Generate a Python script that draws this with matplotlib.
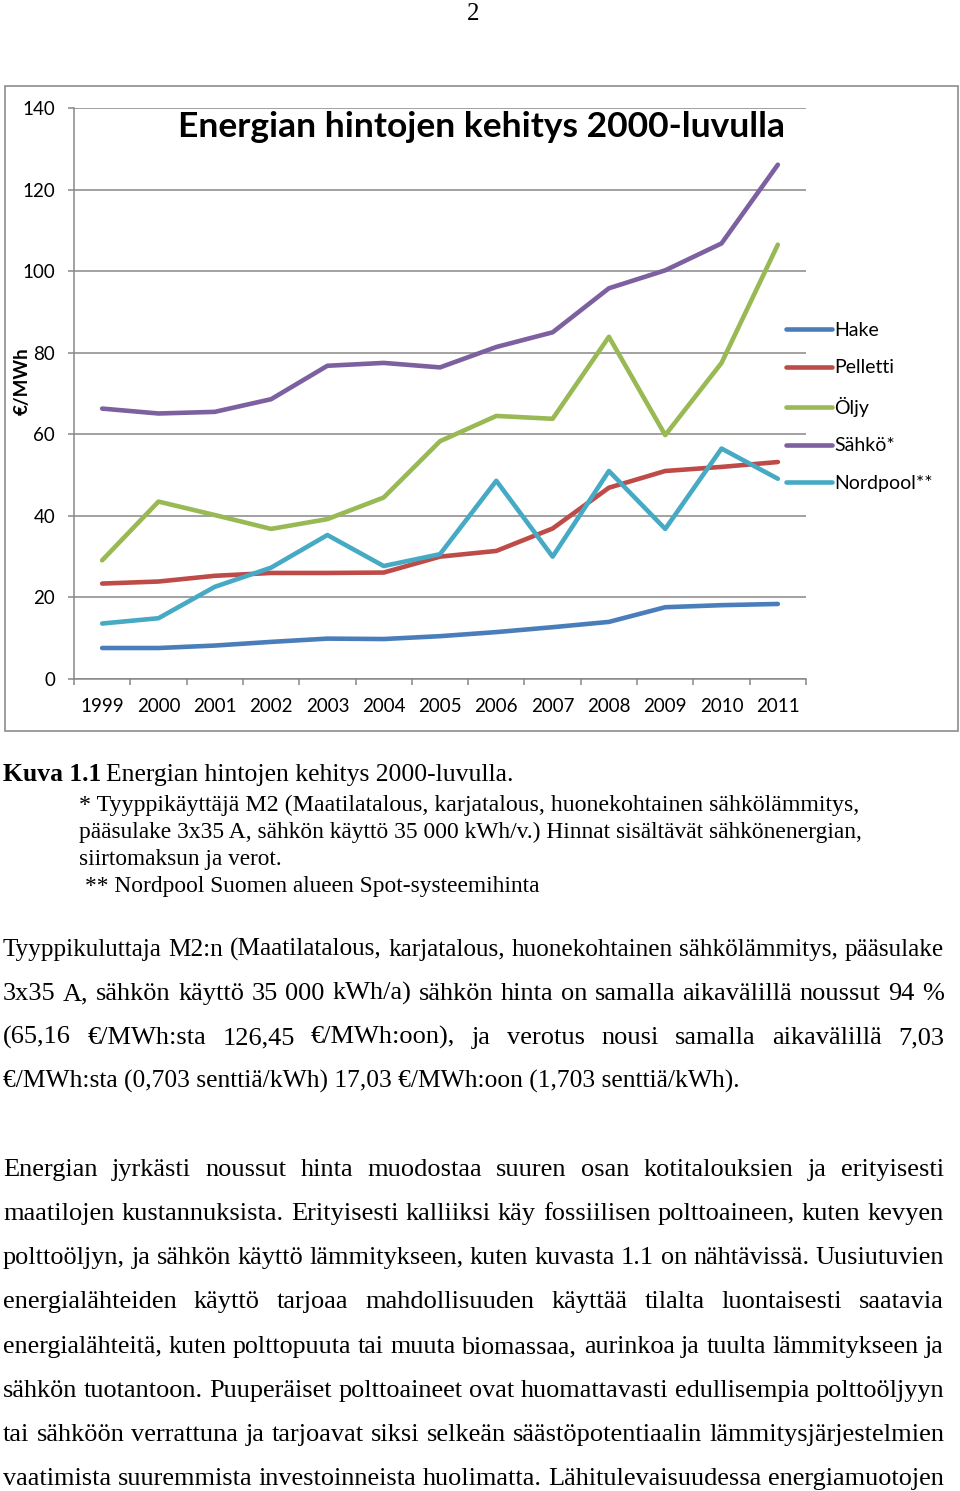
import matplotlib
matplotlib.use('Agg')
import matplotlib.pyplot as plt
from matplotlib.patches import Rectangle
import numpy as np

W, H = 960, 1491

# values (EUR/MWh)
years = ['1999', '2000', '2001', '2002', '2003', '2004', '2005',
         '2006', '2007', '2008', '2009', '2010', '2011']
hake = [7.6, 7.6, 8.2, 9.1, 9.9, 9.8, 10.5, 11.5, 12.7, 14.0, 17.6, 18.1, 18.4]
pelletti = [23.4, 23.9, 25.3, 26.0, 26.0, 26.1, 30.0, 31.4, 36.9, 46.9, 51.0, 52.0, 53.2]
oljy = [29.1, 43.5, 40.2, 36.8, 39.2, 44.5, 58.3, 64.5, 63.8, 83.9, 59.8, 77.5, 106.5]
sahko = [66.3, 65.1, 65.5, 68.6, 76.8, 77.5, 76.4, 81.4, 85.0, 95.8, 100.2, 106.8, 126.1]
nordpool = [13.6, 14.9, 22.6, 27.3, 35.3, 27.7, 30.6, 48.6, 30.0, 51.0, 36.8, 56.5, 49.1]
series_names = ['Hake', 'Pelletti', 'Öljy', 'Sähkö*', 'Nordpool**']
series_colors = ['#4A7EBB', '#BE4B48', '#98B954', '#7D60A0', '#46AAC5']

chart_title = 'Energian hintojen kehitys 2000-luvulla'

caption = [
    ('* Tyyppikäyttäjä M2 (Maatilatalous, karjatalous, huonekohtainen sähkölämmitys,', 79, 862, 811),
    ('pääsulake 3x35 A, sähkön käyttö 35 000 kWh/v.) Hinnat sisältävät sähkönenergian,', 79, 865, 838),
    ('siirtomaksun ja verot.', 79, 281, 865),
    ('** Nordpool Suomen alueen Spot-systeemihinta', 85, 539, 892),
]

para1 = [
    'Tyyppikuluttaja M2:n (Maatilatalous, karjatalous, huonekohtainen sähkölämmitys, pääsulake',
    '3x35 A, sähkön käyttö 35 000 kWh/a) sähkön hinta on samalla aikavälillä noussut 94 %',
    '(65,16 €/MWh:sta 126,45 €/MWh:oon), ja verotus nousi samalla aikavälillä 7,03',
    '€/MWh:sta (0,703 senttiä/kWh) 17,03 €/MWh:oon (1,703 senttiä/kWh).',
]
para2 = [
    'Energian jyrkästi noussut hinta muodostaa suuren osan kotitalouksien ja erityisesti',
    'maatilojen kustannuksista. Erityisesti kalliiksi käy fossiilisen polttoaineen, kuten kevyen',
    'polttoöljyn, ja sähkön käyttö lämmitykseen, kuten kuvasta 1.1 on nähtävissä. Uusiutuvien',
    'energialähteiden käyttö tarjoaa mahdollisuuden käyttää tilalta luontaisesti saatavia',
    'energialähteitä, kuten polttopuuta tai muuta biomassaa, aurinkoa ja tuulta lämmitykseen ja',
    'sähkön tuotantoon. Puuperäiset polttoaineet ovat huomattavasti edullisempia polttoöljyyn',
    'tai sähköön verrattuna ja tarjoavat siksi selkeän säästöpotentiaalin lämmitysjärjestelmien',
    'vaatimista suuremmista investoinneista huolimatta. Lähitulevaisuudessa energiamuotojen',
]
para1_y = [956, 1000, 1044, 1088]
para2_y = [1176, 1220, 1264, 1308, 1353, 1397, 1441, 1485]


def fx(x):
    return x / W


def fy(y):
    return 1 - y / H


fig = plt.figure(figsize=(W / 100, H / 100), dpi=100)
fig.patch.set_facecolor('white')
sans = 'Lato'
serif = 'Liberation Serif'
grid_c = '#878787'

# chart frame
fig.patches.append(Rectangle((fx(5), fy(731)), (958 - 5) / W, (731 - 86) / H,
                             transform=fig.transFigure, fill=False,
                             ec='#8c8c8c', lw=1.2))

ax = fig.add_axes([fx(74), fy(679), (806 - 74) / W, (679 - 108) / H])
x = np.arange(len(years))
for vals, name, color in zip([hake, pelletti, oljy, sahko, nordpool], series_names, series_colors):
    ax.plot(x, vals, color=color, lw=3.3, label=name, solid_capstyle='round')

ax.set_xlim(-0.5, len(years) - 0.5)
ax.set_ylim(0, 140)
ax.set_yticks(range(0, 141, 20))
ax.grid(axis='y', color=grid_c, lw=1.1)
ax.set_axisbelow(True)
for s in ['top', 'right']:
    ax.spines[s].set_visible(False)
for s in ['left', 'bottom']:
    ax.spines[s].set_color(grid_c)
    ax.spines[s].set_linewidth(1.1)
ax.set_xticks(x, years)
ax.set_xticks(np.arange(-0.5, len(years), 1), minor=True)
ax.tick_params(axis='x', which='major', length=0, pad=14, labelsize=13.5)
ax.tick_params(axis='x', which='minor', length=4.5, width=1.1, color=grid_c)
ax.tick_params(axis='y', length=4.5, width=1.1, color=grid_c, pad=9, labelsize=13.5)
for lab in ax.get_xticklabels() + ax.get_yticklabels():
    lab.set_family(sans)

leg = ax.legend(loc='upper left', bbox_to_anchor=(fx(786), fy(322)),
                bbox_transform=fig.transFigure, frameon=False, borderpad=0,
                borderaxespad=0, handlelength=2.35, handletextpad=0.12,
                labelspacing=1.05, prop={'family': sans, 'size': 14})

fig.text(fx(482), fy(127), chart_title, family=sans, weight='bold',
         fontsize=25.5, ha='center', va='center')
fig.text(fx(22), fy(381), '€/MWh', family=sans, weight='bold', fontsize=13.5,
         rotation=90, ha='center', va='center')

# page number
fig.text(fx(473), fy(20), '2', family=serif, fontsize=18, ha='center', va='baseline')

renderer = fig.canvas.get_renderer()


def text_width(s, size, weight='normal'):
    t = fig.text(0, 0, s, fontsize=size, family=serif, weight=weight)
    w = t.get_window_extent(renderer).width
    t.remove()
    return w


def put_line(s, x0, x1, y, size, justify=True, weight='normal'):
    target = x1 - x0
    natural = text_width(s, size, weight)
    if natural > target or not justify:
        size = size * target / natural
    words = s.split(' ')
    if not justify or len(words) == 1:
        fig.text(fx(x0), fy(y), s, fontsize=size, family=serif, weight=weight, va='baseline')
        return
    widths = [text_width(w, size, weight) for w in words]
    gap = (target - sum(widths)) / (len(words) - 1)
    xp = x0
    for w, wd in zip(words, widths):
        fig.text(fx(xp), fy(y), w, fontsize=size, family=serif, weight=weight, va='baseline')
        xp += wd + gap


# figure caption
put_line('Kuva 1.1', 3, 101, 781, 17.5, justify=False, weight='bold')
put_line('Energian hintojen kehitys 2000-luvulla.', 106, 512, 781, 17.5, justify=False)
for s, x0, x1, y in caption:
    put_line(s, x0, x1, y, 17.5, justify=False)

# body text
for i, (s, y) in enumerate(zip(para1, para1_y)):
    if i == len(para1) - 1:
        put_line(s, 3, 740, y, 19, justify=False)
    else:
        put_line(s, 3, 944, y, 19)
for s, y in zip(para2, para2_y):
    put_line(s, 3, 944, y, 19)

fig.savefig('out.png', dpi=100, facecolor='white')
